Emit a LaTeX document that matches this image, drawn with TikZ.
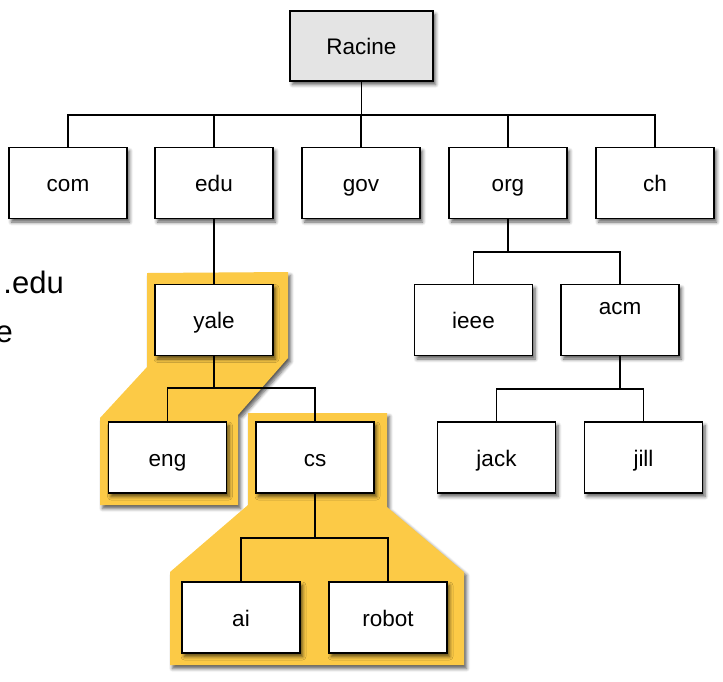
\documentclass[tikz,border=0pt]{standalone}
\usepackage{fontspec}
\setmainfont{Liberation Sans}
\usepackage{tikz}
\usetikzlibrary{shadows,shadows.blur}

\definecolor{hiliteyellow}{RGB}{252,202,70}
\definecolor{rootgray}{RGB}{228,228,228}

\tikzset{
    shade/.style={blur shadow={shadow xshift=2.5pt,shadow yshift=-3.5pt,shadow blur steps=6,shadow blur radius=3.5pt,shadow opacity=65}},
    box/.style={draw,fill=white,line width=1.4pt,minimum width=118pt,minimum height=71pt,outer sep=0pt,inner sep=0pt,
        font=\fontsize{22.5}{26}\selectfont,text height=21pt,text depth=4pt,shade},
    rootbox/.style={box,fill=rootgray,line width=2.8pt,minimum width=143pt,minimum height=70pt},
    hilite/.style={fill=hiliteyellow,draw=none,shade},
    link/.style={line width=1.1pt},
    sidetext/.style={inner sep=0pt,font=\fontsize{31}{35}\selectfont}
}

\begin{document}
\begin{tikzpicture}[x=1pt,y=-1pt]
    \useasboundingbox (0,0) rectangle (723,681);

    % highlighted subtrees
    \path[hilite] (147,273) -- (288,272) -- (288,358) -- (238,415) -- (238,505) -- (100,505) -- (100,418) -- (147,367) -- cycle;
    \path[hilite] (248,413) -- (387,413) -- (387,507) -- (464,572) -- (464,665) -- (170,665) -- (170,572) -- (248,505) -- cycle;

    % text cut off on the left
    \node[sidetext,anchor=base east] (edutext) at (64,293) {.edu};
    \node[sidetext,anchor=base east] (etext) at (13,342) {e};

    % boxes
    \node[rootbox] (racine) at (361.5,46) {Racine};
    \node[box] (com) at (68,183) {com};
    \node[box] (edu) at (214,183) {edu};
    \node[box] (gov) at (361,183) {gov};
    \node[box] (org) at (508,183) {org};
    \node[box] (ch) at (655,183) {ch};
    \node[box] (yale) at (214,320) {yale};
    \node[box] (ieee) at (473.5,320) {ieee};
    \node[box] (acm) at (620,320) {\raisebox{14pt}{acm}};
    \node[box] (eng) at (167.5,457.5) {eng};
    \node[box] (cs) at (315,457.5) {cs};
    \node[box] (jack) at (496.5,457.5) {jack};
    \node[box] (jill) at (643.5,457.5) {jill};
    \node[box] (ai) at (241,617.5) {ai};
    \node[box] (robot) at (388,617.5) {robot};

    % bus levels
    \coordinate (busa) at (0,115);
    \coordinate (busb) at (0,388);
    \coordinate (busc) at (0,538);
    \coordinate (busd) at (0,252);
    \coordinate (buse) at (0,389);

    % connectors
    \draw[link] (com.north) -- (com |- busa) -- (ch |- busa) -- (ch.north);
    \draw[link] (racine.south) -- (racine |- busa);
    \draw[link] (edu.north) -- (edu |- busa);
    \draw[link] (gov.north) -- (gov |- busa);
    \draw[link] (org.north) -- (org |- busa);
    \draw[link] (edu.south) -- (yale.north);
    \draw[link] (yale.south) -- (yale |- busb);
    \draw[link] (eng.north) -- (eng |- busb) -- (cs |- busb) -- (cs.north);
    \draw[link] (cs.south) -- (cs |- busc);
    \draw[link] (ai.north) -- (ai |- busc) -- (robot |- busc) -- (robot.north);
    \draw[link] (org.south) -- (org |- busd);
    \draw[link] (ieee.north) -- (ieee |- busd) -- (acm |- busd) -- (acm.north);
    \draw[link] (acm.south) -- (acm |- buse);
    \draw[link] (jack.north) -- (jack |- buse) -- (jill |- buse) -- (jill.north);
\end{tikzpicture}
\end{document}
